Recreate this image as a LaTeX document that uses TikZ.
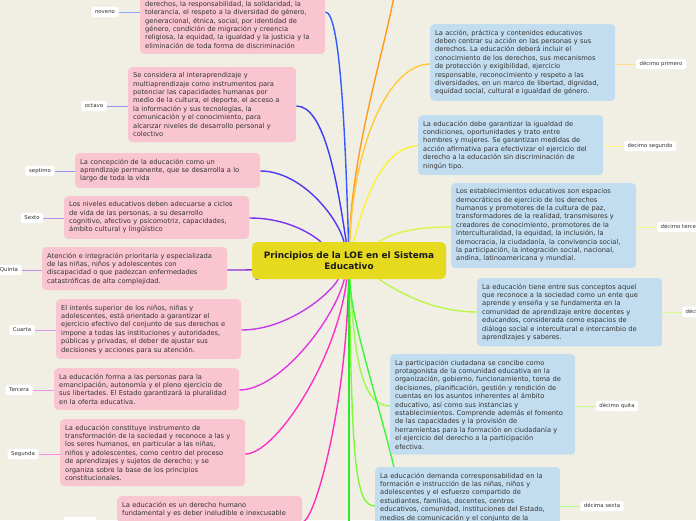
\documentclass[tikz,border=0pt]{standalone}
\usepackage{fontspec}
\setmainfont{DejaVu Sans}
\usetikzlibrary{backgrounds}
\frenchspacing

\definecolor{paper}{HTML}{F1EFE4}
\definecolor{rosa}{HTML}{F9C5D1}
\definecolor{celeste}{HTML}{C3DDF0}
\definecolor{amarillo}{HTML}{E6DA1E}
\definecolor{tinta}{HTML}{333333}
% branch colours
\definecolor{cNov}{HTML}{2F5BFF}
\definecolor{cOct}{HTML}{3A3AF5}
\definecolor{cSep}{HTML}{4C3AEE}
\definecolor{cSex}{HTML}{7A33EE}
\definecolor{cQui}{HTML}{8C2FD9}
\definecolor{cCua}{HTML}{C23AEA}
\definecolor{cTer}{HTML}{E535E5}
\definecolor{cSeg}{HTML}{FF2FC8}
\definecolor{cPri}{HTML}{FF2FB5}
\definecolor{cDec}{HTML}{FF9A1F}
\definecolor{cDUno}{HTML}{FFC93C}
\definecolor{cDDos}{HTML}{FFF03A}
\definecolor{cDTres}{HTML}{D9F74A}
\definecolor{cDCua}{HTML}{BDF54A}
\definecolor{cDQui}{HTML}{9CF84A}
\definecolor{cDSex}{HTML}{7CFA3A}
\definecolor{cDSie}{HTML}{3CF53C}
\definecolor{cDOch}{HTML}{2EE82E}

\begin{document}
\begin{tikzpicture}[
    x=1pt, y=-1pt,
    box/.style={rectangle, rounded corners=4pt, text=tinta, align=left, text width=175pt, inner xsep=5pt, inner ysep=5.5pt, font=\fontsize{6.7}{8.4}\selectfont},
    pinkbox/.style={box, fill=rosa, anchor=north west},
    bluebox/.style={box, fill=celeste, anchor=north west},
    hubbox/.style={rectangle, rounded corners=5pt, fill=amarillo, text=black!90, align=center, minimum width=194pt, minimum height=37pt, font=\fontsize{8.9}{11}\selectfont\bfseries},
    tagbox/.style={rectangle, rounded corners=1.5pt, fill=white, text=tinta, inner xsep=3.5pt, inner ysep=2.5pt, text height=4pt, text depth=1.2pt, font=\fontsize{5.4}{6}\selectfont},
    wire/.style={line width=1.4pt},
    tagwire/.style={line width=0.9pt}
]
\useasboundingbox (0,0) rectangle (696,520);
\clip (0,0) rectangle (696,520);

\node[hubbox] (hub) at (349,260.5) {Principios de la LOE en el Sistema\\Educativo};

% left branches
\node[pinkbox, anchor=south west] (noveno) at (140,54) {derechos, la responsabilidad, la solidaridad, la\\tolerancia, el respeto a la diversidad de género,\\generacional, étnica, social, por identidad de\\género, condición de migración y creencia\\religiosa, la equidad, la igualdad y la justicia y la\\eliminación de toda forma de discriminación};
\node[pinkbox, text width=158pt] (octavo) at (128,67) {Se considera al interaprendizaje y\\multiaprendizaje como instrumentos para\\potenciar las capacidades humanas por\\medio de la cultura, el deporte, el acceso a\\la información y sus tecnologías, la\\comunicación y el conocimiento, para\\alcanzar niveles de desarrollo personal y\\colectivo};
\node[pinkbox] (septimo) at (75,153) {La concepción de la educación como un\\aprendizaje permanente, que se desarrolla a lo\\largo de toda la vida};
\node[pinkbox] (sexto) at (64,196) {Los niveles educativos deben adecuarse a ciclos\\de vida de las personas, a su desarrollo\\cognitivo, afectivo y psicomotriz, capacidades,\\ámbito cultural y lingüístico};
\node[pinkbox] (quinta) at (42,247) {Atención e integración prioritaria y especializada\\de las niñas, niños y adolescentes con\\discapacidad o que padezcan enfermedades\\catastróficas de alta complejidad.};
\node[pinkbox] (cuarta) at (56,299) {El interés superior de los niños, niñas y\\adolescentes, está orientado a garantizar el\\ejercicio efectivo del conjunto de sus derechos e\\impone a todas las instituciones y autoridades,\\públicas y privadas, el deber de ajustar sus\\decisiones y acciones para su atención.};
\node[pinkbox] (tercera) at (54,368) {La educación forma a las personas para la\\emancipación, autonomía y el pleno ejercicio de\\sus libertades. El Estado garantizará la pluralidad\\en la oferta educativa.};
\node[pinkbox] (segunda) at (60,419) {La educación constituye instrumento de\\transformación de la sociedad y reconoce a las y\\los seres humanos, en particular a las niñas,\\niños y adolescentes, como centro del proceso\\de aprendizajes y sujetos de derecho; y se\\organiza sobre la base de los principios\\constitucionales.};
\node[pinkbox] (primera) at (117,496) {La educación es un derecho humano\\fundamental y es deber ineludible e inexcusable};

\node[tagbox] (tNov) at (105,12) {noveno};
\node[tagbox] (tOct) at (94,106) {octavo};
\node[tagbox] (tSep) at (40,171) {septimo};
\node[tagbox] (tSex) at (32,218) {Sexto};
\node[tagbox] (tQui) at (9,270) {Quinta};
\node[tagbox] (tCua) at (22,330) {Cuarta};
\node[tagbox] (tTer) at (19,390) {Tercera};
\node[tagbox] (tSeg) at (23,454) {Segunda};
\node[tagbox, minimum width=32pt] (tPri) at (80,522) {};

% right branches
\node[bluebox] (dUno) at (430,24) {La acción, práctica y contenidos educativos\\deben centrar su acción en las personas y sus\\derechos. La educación deberá incluir el\\conocimiento de los derechos, sus mecanismos\\de protección y exigibilidad, ejercicio\\responsable, reconocimiento y respeto a las\\diversidades, en un marco de libertad, dignidad,\\equidad social, cultural e igualdad de género.};
\node[bluebox] (dDos) at (418,115) {La educación debe garantizar la igualdad de\\condiciones, oportunidades y trato entre\\hombres y mujeres. Se garantizan medidas de\\acción afirmativa para efectivizar el ejercicio del\\derecho a la educación sin discriminación de\\ningún tipo.};
\node[bluebox] (dTres) at (451,183) {Los establecimientos educativos son espacios\\democráticos de ejercicio de los derechos\\humanos y promotores de la cultura de paz,\\transformadores de la realidad, transmisores y\\creadores de conocimiento, promotores de la\\interculturalidad, la equidad, la inclusión, la\\democracia, la ciudadanía, la convivencia social,\\la participación, la integración social, nacional,\\andina, latinoamericana y mundial.};
\node[bluebox] (dCua) at (477,278) {La educación tiene entre sus conceptos aquel\\que reconoce a la sociedad como un ente que\\aprende y enseña y se fundamenta en la\\comunidad de aprendizaje entre docentes y\\educandos, considerada como espacios de\\diálogo social e intercultural e intercambio de\\aprendizajes y saberes.};
\node[bluebox] (dQui) at (390,354) {La participación ciudadana se concibe como\\protagonista de la comunidad educativa en la\\organización, gobierno, funcionamiento, toma de\\decisiones, planificación, gestión y rendición de\\cuentas en los asuntos inherentes al ámbito\\educativo, así como sus instancias y\\establecimientos. Comprende además el fomento\\de las capacidades y la provisión de\\herramientas para la formación en ciudadanía y\\el ejercicio del derecho a la participación\\efectiva.};
\node[bluebox] (dSex) at (375,467) {La educación demanda corresponsabilidad en la\\formación e instrucción de las niñas, niños y\\adolescentes y el esfuerzo compartido de\\estudiantes, familias, docentes, centros\\educativos, comunidad, instituciones del Estado,\\medios de comunicación y el conjunto de la};

\node[tagbox] (tDUno) at (661,64) {décimo primero};
\node[tagbox] (tDDos) at (650,146) {decimo segundo};
\node[tagbox] (tDTres) at (681,227) {décimo tercero};
\node[tagbox] (tDCua) at (705,312) {décimo cuarto};
\node[tagbox] (tDQui) at (617,406) {décimo quita};
\node[tagbox] (tDSex) at (602,506) {décima sexta};

% branches that leave the frame
\coordinate (dCero) at (398,-30);
\coordinate (dSie) at (410,560);
\coordinate (dOch) at (349,600);

\begin{pgfonlayer}{background}
\clip (0,0) rectangle (696,520);
\fill[paper] (0,0) rectangle (696,520);

\draw[wire, draw=cNov] (hub) .. controls +(-4,-140) and +(14,0) .. (noveno.east |- tNov);
\draw[wire, draw=cOct] (hub) .. controls +(-12,-80) and +(28,0) .. (octavo.east |- tOct);
\draw[wire, draw=cSep] (hub) .. controls +(-12,-45) and +(40,0) .. (septimo.east |- tSep);
\draw[wire, draw=cSex] (hub) .. controls +(-30,-20) and +(45,0) .. (sexto.east |- tSex);
\draw[wire, draw=cQui] (hub) .. controls +(-40,8) and +(40,0) .. (quinta.east |- tQui);
\draw[wire, draw=cCua] (hub) .. controls +(-20,35) and +(45,0) .. (cuarta.east |- tCua);
\draw[wire, draw=cTer] (hub) .. controls +(-15,60) and +(40,0) .. (tercera.east |- tTer);
\draw[wire, draw=cSeg] (hub) .. controls +(-12,100) and +(30,0) .. (segunda.east |- tSeg);
\draw[wire, draw=cPri] (hub) .. controls +(-3,150) and +(12,0) .. (primera.east |- tPri);

\draw[wire, draw=cDec] (hub) .. controls +(3,-120) and +(-6,60) .. (dCero);
\draw[wire, draw=cDUno] (hub) .. controls +(5,-120) and +(-40,0) .. (dUno.west |- tDUno);
\draw[wire, draw=cDDos] (hub) .. controls +(15,-60) and +(-35,0) .. (dDos.west |- tDDos);
\draw[wire, draw=cDTres] (hub) .. controls +(40,-25) and +(-45,0) .. (dTres.west |- tDTres);
\draw[wire, draw=cDCua] (hub) .. controls +(40,25) and +(-50,0) .. (dCua.west |- tDCua);
\draw[wire, draw=cDQui] (hub) .. controls +(5,90) and +(-30,0) .. (dQui.west |- tDQui);
\draw[wire, draw=cDSex] (hub) .. controls +(3,200) and +(-20,0) .. (dSex.west |- tDSex);
\draw[wire, draw=cDSie] (hub) .. controls +(3,80) and +(-8,-100) .. (dSie);
\draw[wire, draw=cDOch] (hub) .. controls +(0,100) and +(0,-100) .. (dOch);

% label ties
\draw[tagwire, draw=cNov!55] (tNov) -- (tNov -| noveno.west);
\draw[tagwire, draw=cOct!55] (tOct) -- (tOct -| octavo.west);
\draw[tagwire, draw=cSep!55] (tSep) -- (tSep -| septimo.west);
\draw[tagwire, draw=cSex!55] (tSex) -- (tSex -| sexto.west);
\draw[tagwire, draw=cQui!55] (tQui) -- (tQui -| quinta.west);
\draw[tagwire, draw=cCua!55] (tCua) -- (tCua -| cuarta.west);
\draw[tagwire, draw=cTer!55] (tTer) -- (tTer -| tercera.west);
\draw[tagwire, draw=cSeg!55] (tSeg) -- (tSeg -| segunda.west);
\draw[tagwire, draw=cDUno!60] (tDUno) -- (tDUno -| dUno.east);
\draw[tagwire, draw=cDDos!60] (tDDos) -- (tDDos -| dDos.east);
\draw[tagwire, draw=cDTres!60] (tDTres) -- (tDTres -| dTres.east);
\draw[tagwire, draw=cDCua!60] (tDCua) -- (tDCua -| dCua.east);
\draw[tagwire, draw=cDQui!60] (tDQui) -- (tDQui -| dQui.east);
\draw[tagwire, draw=cDSex!60] (tDSex) -- (tDSex -| dSex.east);
\end{pgfonlayer}
\end{tikzpicture}
\end{document}
